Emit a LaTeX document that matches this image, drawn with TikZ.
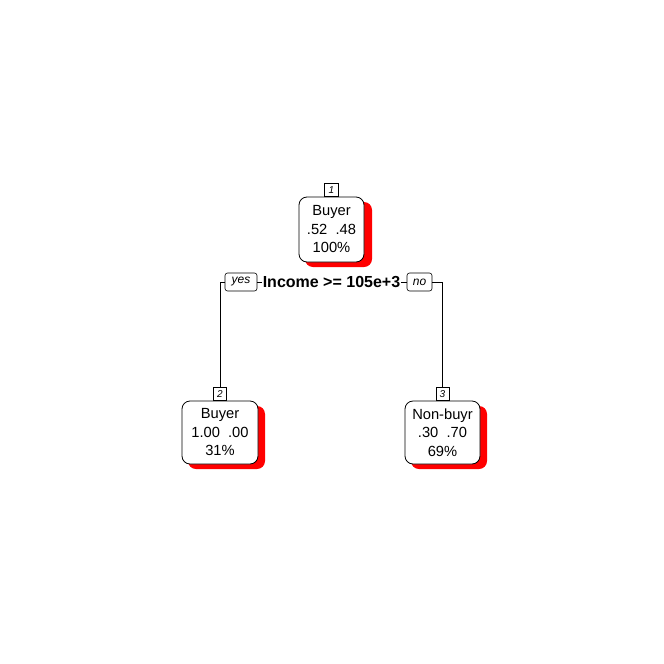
\documentclass[tikz,border=0pt]{standalone}
\usepackage{fontspec}
\setmainfont{Liberation Sans}
\begin{document}
\begin{tikzpicture}[x=1pt,y=-1pt,
  leaf/.style={draw=black,fill=white,rounded corners=8pt,align=center,inner sep=0pt,
     font=\fontsize{14.7}{18.5}\selectfont,line width=0.8pt},
  shadow/.style={fill=red,rounded corners=8pt},
  numbox/.style={draw=black,fill=white,inner sep=1.2pt,font=\fontsize{10}{10}\selectfont\itshape,
     minimum height=13pt,minimum width=13pt,line width=0.6pt},
  ynbox/.style={draw=black,fill=white,rounded corners=2.5pt,inner sep=0pt,font=\fontsize{12}{12}\selectfont\itshape,
     minimum height=18pt,line width=0.6pt},
  conn/.style={draw=black,line width=0.7pt}]
\useasboundingbox (0,0) rectangle (664,664);
% shadows
\fill[shadow] (305,202) rectangle (372,267);
\fill[shadow] (188,406) rectangle (265,469);
\fill[shadow] (411,406) rectangle (487,469);
% boxes
\node[leaf,minimum width=65pt,minimum height=65pt] (n1) at (331.5,229.5) {Buyer\\.52\ \ .48\\100\%};
\node[leaf,minimum width=76pt,minimum height=63pt] (n2) at (220,432.5) {Buyer\\1.00\ \ .00\\31\%};
\node[leaf,minimum width=75pt,minimum height=63pt] (n3) at (442.5,432.5) {Non-buyr\\.30\ \ .70\\69\%};
% number boxes
\node[numbox,anchor=south,minimum width=14pt] (k1) at (n1.north) {1};
\node[numbox,anchor=south] (k2) at (n2.north) {2};
\node[numbox,anchor=south] (k3) at (n3.north) {3};
% split label
\node[font=\fontsize{16}{18}\selectfont\bfseries,inner sep=1pt] (lab) at (331.5,282) {Income >= 105e+3};
\node[ynbox,minimum width=32pt] (yes) at (241,282) {yes};
\node[ynbox,minimum width=25pt] (no) at (419.5,282) {no};
\draw[conn] (yes.east) -- (lab.west);
\draw[conn] (lab.east) -- (no.west);
\draw[conn] (yes.west) -| (k2.north);
\draw[conn] (no.east) -| (k3.north);
\end{tikzpicture}
\end{document}
